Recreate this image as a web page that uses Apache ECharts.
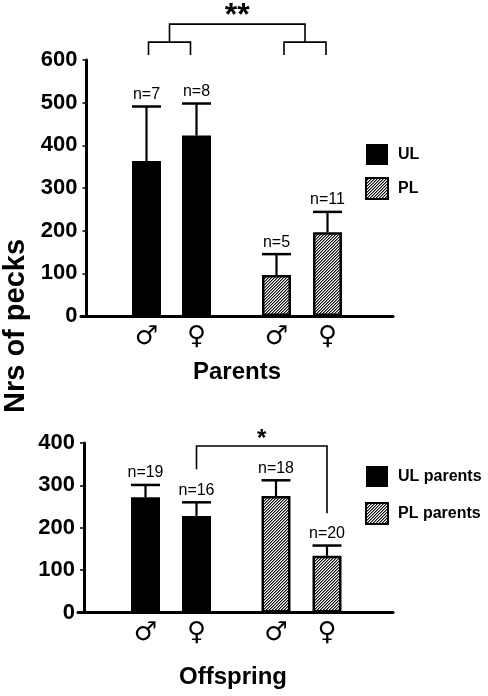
<!DOCTYPE html>
<html>
<head>
<meta charset="utf-8">
<script src="https://cdn.jsdelivr.net/npm/echarts@6/dist/echarts.min.js"></script>
<style>html,body{margin:0;padding:0;background:#fff}#c{width:488px;height:696px}</style>
</head>
<body>
<div id="c"></div>
<script>
// ---- data ----
const sexCats = ['♂', '♀'];
const parentsUL = [363, 423];
const parentsULsem = [128, 75];
const parentsULn = [7, 8];
const parentsPL = [96, 196];
const parentsPLsem = [49, 48];
const parentsPLn = [5, 11];
const offspringUL = [272, 228];
const offspringULsem = [29, 32];
const offspringULn = [19, 16];
const offspringPL = [275, 134];
const offspringPLsem = [37, 24];
const offspringPLn = [18, 20];
const parentsMax = 600, offspringMax = 400, tickStep = 100;

const FONT = '"Liberation Sans", Arial, Helvetica, sans-serif';

function hatch() {
  const c = document.createElement('canvas');
  c.width = 3; c.height = 3;
  const g = c.getContext('2d');
  g.fillStyle = '#fff'; g.fillRect(0, 0, 3, 3);
  for (let i = 0; i < 3; i++) {
    g.fillStyle = '#111';
    g.fillRect(i, 2 - i, 1, 1);
    g.fillStyle = '#888';
    g.fillRect(i, (3 - i) % 3, 1, 1);
  }
  return c;
}
const hatchFill = { image: hatch(), repeat: 'repeat' };

const chart = echarts.init(document.getElementById('c'));

function errData(means, sems, ns) {
  return means.map((m, i) => [i, m, m + sems[i], ns[i]]);
}
function errRender(params, api) {
  const p0 = api.coord([api.value(0), api.value(1)]);
  const p1 = api.coord([api.value(0), api.value(2)]);
  const hw = 14.5;
  return {
    type: 'group',
    children: [
      { type: 'line', shape: { x1: p0[0], y1: p0[1], x2: p0[0], y2: p1[1] }, style: { stroke: '#000', lineWidth: 2.2 } },
      { type: 'line', shape: { x1: p0[0] - hw, y1: p1[1], x2: p0[0] + hw, y2: p1[1] }, style: { stroke: '#000', lineWidth: 2.5 } },
      { type: 'text', x: p0[0], y: p1[1] - 4, style: { text: 'n=' + api.value(3), font: '16px ' + FONT, fill: '#000', textAlign: 'center', textVerticalAlign: 'bottom' } }
    ]
  };
}

const barGrid = (gi) => ({
  gridIndex: gi, type: 'category', data: sexCats,
  axisLine: { show: false }, axisTick: { show: false },
  axisLabel: { margin: 8, fontFamily: '"DejaVu Sans"', fontSize: 26, color: '#000' }
});
const hiddenY = (gi, max) => ({ gridIndex: gi, type: 'value', min: 0, max: max, show: false, splitLine: { show: false } });
const axesX = (gi) => ({ gridIndex: gi, type: 'value', min: 0, max: 1, axisLine: { lineStyle: { color: '#000', width: 3 } }, axisTick: { show: false }, axisLabel: { show: false }, splitLine: { show: false } });
const axesY = (gi, max, off) => ({
  gridIndex: gi, type: 'value', min: 0, max: max, interval: tickStep, offset: off,
  axisLine: { show: true, lineStyle: { color: '#000', width: 3 } },
  axisTick: { show: true, length: 4, lineStyle: { color: '#000', width: 1.5 } },
  axisLabel: { margin: 9, fontFamily: FONT, fontWeight: 'bold', fontSize: 22, color: '#000' },
  splitLine: { show: false }
});

const ulStyle = { color: '#000' };
const plStyle = { color: hatchFill, borderColor: '#000', borderWidth: 2.5 };

chart.setOption({
  animation: false,
  backgroundColor: '#fff',
  grid: [
    { left: 81, right: 95, top: 60, height: 256 },
    { left: 121.5, width: 100, top: 60, height: 256 },
    { left: 251, width: 102, top: 60, height: 256 },
    { left: 78, right: 95, top: 443, height: 169.5 },
    { left: 120, width: 102, top: 443, height: 169.5 },
    { left: 250.5, width: 102, top: 443, height: 169.5 }
  ],
  xAxis: [axesX(0), barGrid(1), barGrid(2), axesX(3), barGrid(4), barGrid(5)],
  yAxis: [axesY(0, parentsMax, -5.5), hiddenY(1, parentsMax), hiddenY(2, parentsMax),
          axesY(3, offspringMax, -6), hiddenY(4, offspringMax), hiddenY(5, offspringMax)],
  legend: [
    { data: ['UL', 'PL'], orient: 'vertical', left: 365, top: 144, padding: 0, itemGap: 12, itemWidth: 22, itemHeight: 21, icon: 'rect',
      textStyle: { fontFamily: FONT, fontWeight: 'bold', fontSize: 16, color: '#000', padding: [0, 0, 0, 5] } },
    { data: ['UL parents', 'PL parents'], orient: 'vertical', left: 365, top: 466, padding: 0, itemGap: 15, itemWidth: 22, itemHeight: 21, icon: 'rect',
      textStyle: { fontFamily: FONT, fontWeight: 'bold', fontSize: 16, color: '#000', padding: [0, 0, 0, 5] } }
  ],
  series: [
    { name: 'UL', type: 'bar', xAxisIndex: 1, yAxisIndex: 1, data: parentsUL, barWidth: 29, itemStyle: ulStyle },
    { name: 'PL', type: 'bar', xAxisIndex: 2, yAxisIndex: 2, data: parentsPL, barWidth: 29, itemStyle: plStyle },
    { name: 'ULerr', type: 'custom', xAxisIndex: 1, yAxisIndex: 1, data: errData(parentsUL, parentsULsem, parentsULn), renderItem: errRender, clip: false, z: 5 },
    { name: 'PLerr', type: 'custom', xAxisIndex: 2, yAxisIndex: 2, data: errData(parentsPL, parentsPLsem, parentsPLn), renderItem: errRender, clip: false, z: 5 },
    { name: 'UL parents', type: 'bar', xAxisIndex: 4, yAxisIndex: 4, data: offspringUL, barWidth: 29, itemStyle: ulStyle },
    { name: 'PL parents', type: 'bar', xAxisIndex: 5, yAxisIndex: 5, data: offspringPL, barWidth: 29, itemStyle: plStyle },
    { name: 'ULpErr', type: 'custom', xAxisIndex: 4, yAxisIndex: 4, data: errData(offspringUL, offspringULsem, offspringULn), renderItem: errRender, clip: false, z: 5 },
    { name: 'PLpErr', type: 'custom', xAxisIndex: 5, yAxisIndex: 5, data: errData(offspringPL, offspringPLsem, offspringPLn), renderItem: errRender, clip: false, z: 5 }
  ]
});

// ---- annotations (positions derived from axes) ----
const P = (gi, cat, val) => chart.convertToPixel({ xAxisIndex: gi, yAxisIndex: gi }, [cat, val]);
const lineSt = { stroke: '#000', lineWidth: 1.6, fill: null };
const ulMid = (P(1, 0, 0)[0] + P(1, 1, 0)[0]) / 2 - 2;
const plMid = (P(2, 0, 0)[0] + P(2, 1, 0)[0]) / 2 + 3;
const hw = 21;
const yLeg = P(1, 0, 612)[1], ySub = P(1, 0, 642)[1], yTop = P(1, 0, 684)[1];
const oxL = P(4, 1, 0)[0], oxR = P(5, 1, 0)[0];
const oyH = P(4, 0, 393)[1], oyL = P(4, 0, 338)[1], oyR = P(4, 0, 234)[1];

chart.setOption({
  graphic: [
    { type: 'polyline', shape: { points: [[ulMid - hw, yLeg], [ulMid - hw, ySub], [ulMid + hw, ySub], [ulMid + hw, yLeg]] }, style: lineSt },
    { type: 'polyline', shape: { points: [[plMid - hw, yLeg], [plMid - hw, ySub], [plMid + hw, ySub], [plMid + hw, yLeg]] }, style: lineSt },
    { type: 'polyline', shape: { points: [[ulMid, ySub], [ulMid, yTop], [plMid, yTop], [plMid, ySub]] }, style: lineSt },
    { type: 'text', x: (ulMid + plMid) / 2, y: yTop - 8, style: { text: '**', font: 'bold 32px ' + FONT, fill: '#000', textAlign: 'center', textVerticalAlign: 'middle' } },
    { type: 'polyline', shape: { points: [[oxL, oyL], [oxL, oyH], [oxR, oyH], [oxR, oyR]] }, style: lineSt },
    { type: 'text', x: (oxL + oxR) / 2, y: oyH - 7, style: { text: '*', font: 'bold 24px ' + FONT, fill: '#000', textAlign: 'center', textVerticalAlign: 'middle' } },
    { type: 'text', x: 237, y: 372, style: { text: 'Parents', font: 'bold 24px ' + FONT, fill: '#000', textAlign: 'center', textVerticalAlign: 'middle' } },
    { type: 'text', x: 233, y: 677, style: { text: 'Offspring', font: 'bold 24px ' + FONT, fill: '#000', textAlign: 'center', textVerticalAlign: 'middle' } },
    { type: 'text', x: 16, y: 326, rotation: Math.PI / 2, style: { text: 'Nrs of pecks', font: 'bold 29px ' + FONT, fill: '#000', textAlign: 'center', textVerticalAlign: 'middle' } }
  ]
});
</script>
</body>
</html>
